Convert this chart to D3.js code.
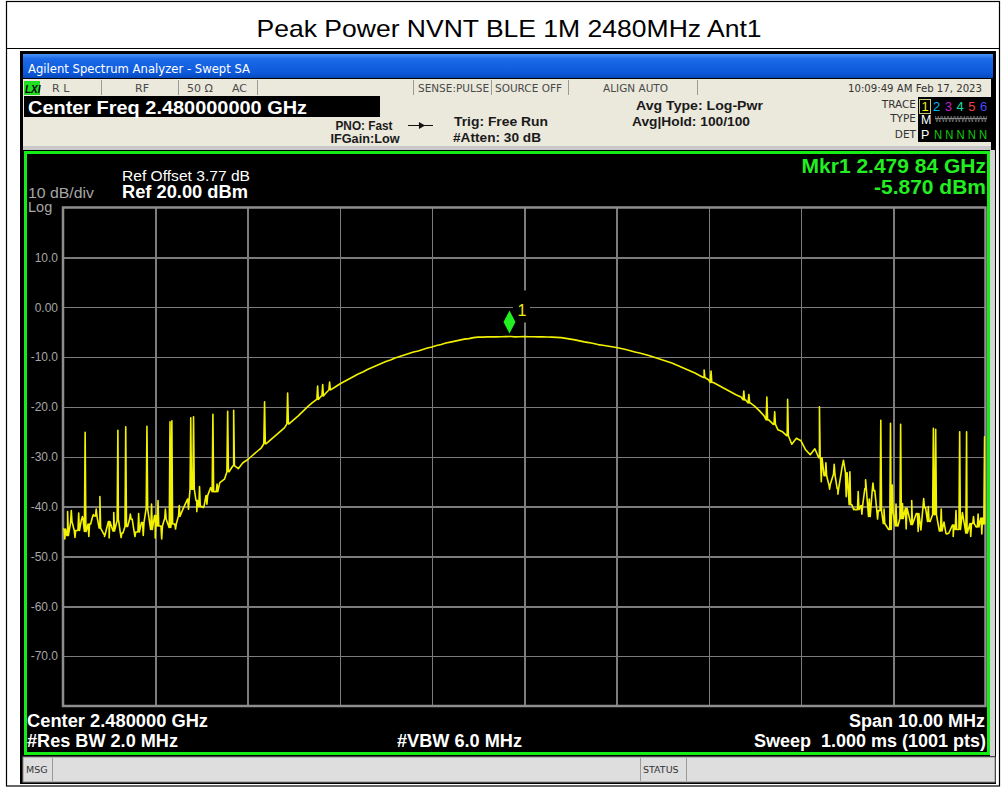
<!DOCTYPE html>
<html lang="en">
<head>
    <meta charset="utf-8">
    <title>Peak Power NVNT BLE 1M 2480MHz Ant1</title>
    <script src="https://d3js.org/d3.v7.min.js"></script>
    <style type="text/css">
        body {
            margin: 0;
            background: #fff;
            font-family: 'Liberation Sans', Arial, sans-serif;
        }
        svg { display: block; }
        .grid line { stroke: #7c7c7c; stroke-width: 1.5; shape-rendering: crispEdges; }
        .grid path { display: none; }
        .ylabels path, .ylabels line { display: none; }
        .ylabels text { fill: #a6a6a6; font-size: 12px; font-family: 'Liberation Sans', Arial, sans-serif; }
        .bar-txt { fill: #4a4a4a; font-size: 11px; font-family: 'DejaVu Sans', Tahoma, sans-serif; }
        .info { fill: #1a1a1a; font-weight: bold; font-family: 'Liberation Sans', Arial, sans-serif; }
        .scr { fill: #fff; font-weight: bold; font-size: 18px; }
        .mkr { fill: #22ee22; font-weight: bold; font-size: 21px; }
        .trace { fill: none; stroke: #f2f200; stroke-width: 1.6; stroke-linejoin: round; }
    </style>
</head>
<body>
<svg></svg>
<script>
    // Sweep settings
    var startMHz = 2475, stopMHz = 2485, stepMHz = 0.05;
    var refLevel = 20, dbPerDiv = 10;

    // Trace levels in dBm, one every 0.05 MHz
    var traceLevels = [
        -44.5, -45.8, -43.2, -44.8, -42.6, -45.0, -43.5, -41.9, -44.3, -45.5,
        -43.0, -44.9, -42.8, -45.3, -44.0, -42.5, -45.1, -43.2, -40.5, -44.6,
        -41.8, -43.9, -42.5, -44.2, -43.5, -42.0, -40.5, -38.5, -36.5, -38.8,
        -40.0, -37.8, -36.2, -37.0, -35.2, -34.5, -33.0, -31.8, -32.4, -31.2,
        -30.6, -29.8, -29.0, -28.2, -27.4, -26.6, -25.8, -25.0, -24.2, -23.4,
        -22.6, -21.8, -20.9, -20.0, -19.2, -18.5, -17.8, -17.2, -16.6, -16.0,
        -15.4, -14.9, -14.4, -13.9, -13.4, -13.0, -12.5, -12.1, -11.7, -11.3,
        -10.9, -10.6, -10.2, -9.9, -9.6, -9.3, -9.0, -8.8, -8.5, -8.2,
        -8.0, -7.7, -7.5, -7.2, -7.0, -6.8, -6.6, -6.4, -6.3, -6.1,
        -6.0, -6.0, -5.95, -5.92, -5.95, -5.93, -5.9, -5.87, -5.95, -5.92,
        -5.9, -5.92, -5.93, -5.95, -5.95, -5.97, -6.0, -6.05, -6.1, -6.25,
        -6.4, -6.55, -6.75, -6.95, -7.1, -7.3, -7.5, -7.65, -7.8, -7.95,
        -8.1, -8.3, -8.5, -8.75, -9.0, -9.2, -9.45, -9.7, -10.0, -10.3,
        -10.6, -10.9, -11.2, -11.6, -12.0, -12.4, -12.8, -13.2, -13.7, -14.1,
        -14.6, -15.1, -15.6, -16.1, -16.6, -17.1, -17.6, -18.0, -18.6, -19.2,
        -19.9, -20.8, -21.8, -22.6, -23.5, -24.6, -25.0, -25.8, -27.5, -26.3,
        -26.8, -28.6, -29.6, -28.4, -30.2, -33.8, -35.5, -33.6, -36.4, -31.6,
        -33.2, -39.6, -40.6, -39.8, -36.4, -42.0, -36.8, -40.8, -43.4, -44.6,
        -41.2, -43.9, -42.4, -40.3, -43.6, -41.4, -44.7, -40.2, -43.0, -41.6,
        -44.9, -43.1, -45.4, -43.7, -44.6, -41.2, -45.3, -43.4, -44.1, -42.3,
        -43.5
    ];

    // Narrow spurs sticking out of the trace
    var spikeMHz = [2475.24, 2475.40, 2475.595, 2475.68, 2475.91, 2476.16, 2476.18, 2476.385,
        2476.415, 2476.625, 2476.785, 2476.85, 2477.185, 2477.435, 2477.76, 2477.815, 2477.89,
        2481.95, 2482.025, 2482.38, 2482.435, 2482.63, 2482.715, 2482.855, 2483.20, 2483.865,
        2483.97, 2484.08, 2484.435, 2484.46, 2484.72, 2484.795, 2484.99];
    var spikeDbm = [-25.1, -38.0, -24.7, -24.0, -23.9, -23.0, -22.8, -22.2,
        -22.0, -21.5, -20.9, -20.7, -19.0, -17.2, -15.8, -15.5, -15.0,
        -12.6, -12.8, -16.8, -17.5, -18.0, -21.0, -18.5, -20.0, -22.7,
        -23.3, -23.5, -24.3, -24.5, -25.0, -25.0, -26.0];

    // Smaller noise excursions
    var glitchMHz = [2475.02, 2475.05, 2475.09, 2475.13, 2475.17, 2475.21, 2475.28, 2475.33, 2475.36, 2475.45,
        2475.50, 2475.55, 2475.63, 2475.73, 2475.78, 2475.82, 2475.87, 2475.96, 2476.00, 2476.03,
        2476.07, 2476.11, 2476.22, 2476.26, 2476.36, 2476.45, 2476.48, 2476.52, 2476.56, 2476.67,
        2483.22, 2483.27, 2483.31, 2483.36, 2483.40, 2483.46, 2483.49, 2483.53, 2483.58, 2483.62,
        2483.66, 2483.70, 2483.74, 2483.78, 2483.83, 2483.90, 2483.99, 2484.03, 2484.10, 2484.14,
        2484.20, 2484.27, 2484.33, 2484.38, 2484.52, 2484.58, 2484.65, 2484.68, 2484.84, 2484.87,
        2484.92, 2484.96];
    var glitchDbm = [-46.5, -41.0, -40.8, -46.2, -41.3, -42.0, -46.0, -41.6, -40.5, -46.0,
        -46.3, -41.2, -46.2, -41.5, -46.0, -41.4, -45.8, -39.5, -46.3, -38.8,
        -46.5, -40.5, -44.5, -39.8, -40.5, -41.0, -36.0, -40.2, -39.5, -35.5,
        -35.0, -31.2, -36.5, -31.5, -37.5, -30.7, -38.0, -33.0, -40.5, -37.0,
        -41.5, -34.6, -38.5, -35.3, -42.5, -40.5, -35.7, -39.5, -39.4, -44.5,
        -38.8, -45.0, -38.4, -40.0, -40.5, -45.5, -46.0, -40.8, -46.0, -42.0,
        -41.5, -45.5];

    var yTickValues = [10, 0, -10, -20, -30, -40, -50, -60, -70];
    var yTickLabels = ["10.0", "0.00", "-10.0", "-20.0", "-30.0", "-40.0", "-50.0", "-60.0", "-70.0"];

    var markerMHz = 2479.84, markerDbm = -5.87;

    var traceNumbers = ["1", "2", "3", "4", "5", "6"];
    var traceColors = ["#f0f000", "#00b8f0", "#c020c8", "#10e0a0", "#f04040", "#4848ff"];

    var svg = d3.select("svg")
        .attr("width", 1004)
        .attr("height", 787);

    function txt(g, xPos, yPos, str, cls, size, anchor, fill) {
        var t = g.append("text")
            .attr("x", xPos).attr("y", yPos)
            .text(str);
        if (cls) t.attr("class", cls);
        if (size) t.style("font-size", size + "px");
        if (anchor) t.attr("text-anchor", anchor);
        if (fill) t.style("fill", fill);
        return t;
    }

    // Table frame round the picture
    svg.append("rect").attr("x", 6.5).attr("y", 1.5).attr("width", 993).attr("height", 784.5)
        .attr("fill", "#fff").attr("stroke", "#000").attr("stroke-width", 1.2);
    svg.append("line").attr("x1", 6).attr("x2", 1000).attr("y1", 48.5).attr("y2", 48.5)
        .attr("stroke", "#000").attr("stroke-width", 1.2);
    txt(svg, 509, 37, "Peak Power NVNT BLE 1M 2480MHz Ant1", null, 24, "middle", "#000")
        .attr("textLength", 505).attr("lengthAdjust", "spacingAndGlyphs");

    // Analyzer screen
    var scr = svg.append("g");
    scr.append("rect").attr("x", 20).attr("y", 51).attr("width", 976).attr("height", 733).attr("fill", "#000");

    var grad = svg.append("defs").append("linearGradient").attr("id", "bluebar")
        .attr("x1", 0).attr("y1", 0).attr("x2", 0).attr("y2", 1);
    grad.append("stop").attr("offset", "0%").attr("stop-color", "#4a95f8");
    grad.append("stop").attr("offset", "20%").attr("stop-color", "#1d6ae8");
    grad.append("stop").attr("offset", "80%").attr("stop-color", "#0b58da");
    grad.append("stop").attr("offset", "100%").attr("stop-color", "#0747bb");
    scr.append("rect").attr("x", 23).attr("y", 54).attr("width", 970).attr("height", 24).attr("fill", "url(#bluebar)");
    txt(scr, 28, 73, "Agilent Spectrum Analyzer - Swept SA", null, 12.5, null, "#fff")
        .style("font-family", "'DejaVu Sans', Tahoma, sans-serif")
        .attr("textLength", 222).attr("lengthAdjust", "spacingAndGlyphs");

    // Status row
    scr.append("rect").attr("x", 23).attr("y", 79).attr("width", 968).attr("height", 17).attr("fill", "#ebe8dc");
    [101, 178, 257, 413, 491, 568, 697].forEach(function (sx) {
        scr.append("line").attr("x1", sx + 0.5).attr("x2", sx + 0.5).attr("y1", 80).attr("y2", 95)
            .attr("stroke", "#9a9a9a");
    });
    scr.append("rect").attr("x", 24).attr("y", 81).attr("width", 16).attr("height", 14).attr("fill", "#22dd22");
    txt(scr, 25, 93, "LXI", null, 10, null, "#000").style("font-weight", "bold").style("font-style", "italic");
    txt(scr, 52, 92, "R L", "bar-txt");
    txt(scr, 135, 92, "RF", "bar-txt");
    txt(scr, 187, 92, "50 \u03a9", "bar-txt");
    txt(scr, 232, 92, "AC", "bar-txt");
    txt(scr, 418, 92, "SENSE:PULSE", "bar-txt").attr("textLength", 71).attr("lengthAdjust", "spacingAndGlyphs");
    txt(scr, 495, 92, "SOURCE OFF", "bar-txt").attr("textLength", 67).attr("lengthAdjust", "spacingAndGlyphs");
    txt(scr, 603, 92, "ALIGN AUTO", "bar-txt").attr("textLength", 65).attr("lengthAdjust", "spacingAndGlyphs");
    txt(scr, 982, 92, "10:09:49 AM Feb 17, 2023", "bar-txt", 11, "end").style("fill", "#333")
        .attr("textLength", 134).attr("lengthAdjust", "spacingAndGlyphs");

    // Settings panel
    scr.append("rect").attr("x", 23).attr("y", 96).attr("width", 968).attr("height", 51).attr("fill", "#ebe8dc");
    scr.append("rect").attr("x", 23).attr("y", 146).attr("width", 968).attr("height", 4).attr("fill", "#c9c9c9");
    scr.append("rect").attr("x", 24).attr("y", 96).attr("width", 356).attr("height", 21).attr("fill", "#000");
    txt(scr, 28, 114, "Center Freq 2.480000000 GHz", null, 18, null, "#fff").style("font-weight", "bold")
        .attr("textLength", 279).attr("lengthAdjust", "spacingAndGlyphs");

    txt(scr, 364, 130, "PNO: Fast", "info", 12, "middle").attr("textLength", 57).attr("lengthAdjust", "spacingAndGlyphs");
    txt(scr, 365, 143, "IFGain:Low", "info", 12, "middle").attr("textLength", 69).attr("lengthAdjust", "spacingAndGlyphs");
    scr.append("line").attr("x1", 408).attr("x2", 433).attr("y1", 125.5).attr("y2", 125.5).attr("stroke", "#111");
    scr.append("path").attr("d", d3.symbol().type(d3.symbolTriangle).size(22))
        .attr("transform", "translate(421,125.5) rotate(90)").attr("fill", "#111");
    txt(scr, 454, 126, "Trig: Free Run", "info", 13.5).attr("textLength", 94).attr("lengthAdjust", "spacingAndGlyphs");
    txt(scr, 453, 142, "#Atten: 30 dB", "info", 13).attr("textLength", 88).attr("lengthAdjust", "spacingAndGlyphs");
    txt(scr, 636, 110, "Avg Type: Log-Pwr", "info", 13.5).attr("textLength", 127).attr("lengthAdjust", "spacingAndGlyphs");
    txt(scr, 632, 126, "Avg|Hold: 100/100", "info", 13.5).attr("textLength", 118).attr("lengthAdjust", "spacingAndGlyphs");

    // Trace table top right
    txt(scr, 916, 108, "TRACE", "bar-txt", 10.5, "end").style("fill", "#333");
    txt(scr, 916, 122, "TYPE", "bar-txt", 10.5, "end").style("fill", "#333");
    txt(scr, 916, 138, "DET", "bar-txt", 10.5, "end").style("fill", "#333");
    scr.append("rect").attr("x", 918).attr("y", 97).attr("width", 73).attr("height", 45).attr("fill", "#000");
    scr.append("rect").attr("x", 919.5).attr("y", 99.5).attr("width", 11).attr("height", 14)
        .attr("fill", "none").attr("stroke", "#c8c870");
    traceNumbers.forEach(function (n, i) {
        txt(scr, 925 + i * 11.7, 111, n, null, 13, "middle", traceColors[i]);
    });
    txt(scr, 921, 124, "M", null, 12.5, null, "#fff");
    txt(scr, 935, 122, "WWWWWWWW", null, 9, null, "#8a8a8a").attr("textLength", 52).attr("lengthAdjust", "spacingAndGlyphs");
    scr.append("line").attr("x1", 935).attr("x2", 987).attr("y1", 118.5).attr("y2", 118.5).attr("stroke", "#8a8a8a");
    txt(scr, 921, 139, "P", null, 12.5, null, "#fff");
    txt(scr, 934, 139, "N N N N N", null, 12.5, null, "#11cc11").attr("textLength", 53).attr("lengthAdjust", "spacingAndGlyphs");

    // Graph area with green active frame
    scr.append("rect").attr("x", 990).attr("y", 150).attr("width", 5).attr("height", 606).attr("fill", "#d4d4d4");
    scr.append("rect").attr("x", 25.5).attr("y", 152.5).attr("width", 963).attr("height", 601)
        .attr("fill", "#000").attr("stroke", "#14ee14").attr("stroke-width", 3);

    var grat = {left: 63, right: 985.5, top: 207.5, bottom: 706};

    var x = d3.scaleLinear().domain([startMHz, stopMHz]).range([grat.left, grat.right]);
    var y = d3.scaleLinear().domain([refLevel - 10 * dbPerDiv, refLevel]).range([grat.bottom, grat.top]);

    // Vertical grid
    svg.append("g")
        .attr("class", "grid")
        .attr("transform", "translate(0," + grat.bottom + ")")
        .call(d3.axisBottom(x).tickValues(d3.range(startMHz + 1, stopMHz, 1))
            .tickSize(-(grat.bottom - grat.top)).tickFormat(""));

    // Horizontal grid
    svg.append("g")
        .attr("class", "grid")
        .attr("transform", "translate(" + grat.left + ",0)")
        .call(d3.axisLeft(y).tickValues(yTickValues)
            .tickSize(-(grat.right - grat.left)).tickFormat(""));

    svg.append("rect").attr("x", grat.left).attr("y", grat.top)
        .attr("width", grat.right - grat.left).attr("height", grat.bottom - grat.top)
        .attr("fill", "none").attr("stroke", "#8e8e8e").attr("stroke-width", 2.5);

    // Amplitude labels
    svg.append("g")
        .attr("class", "ylabels")
        .attr("transform", "translate(" + grat.left + ",0)")
        .call(d3.axisLeft(y).tickValues(yTickValues).tickSize(0).tickPadding(5)
            .tickFormat(function (d, i) { return yTickLabels[i]; }));

    txt(svg, 28, 198, "10 dB/div", null, 14.5, null, "#a6a6a6").attr("textLength", 66).attr("lengthAdjust", "spacingAndGlyphs");
    txt(svg, 28, 212, "Log", null, 14.5, null, "#a6a6a6");
    txt(svg, 122, 181, "Ref Offset 3.77 dB", null, 14.5, null, "#fff").attr("textLength", 128).attr("lengthAdjust", "spacingAndGlyphs");
    txt(svg, 122, 198, "Ref 20.00 dBm", null, 17.5, null, "#fff").style("font-weight", "bold")
        .attr("textLength", 126).attr("lengthAdjust", "spacingAndGlyphs");
    txt(svg, 986, 173, "Mkr1 2.479 84 GHz", "mkr", null, "end");
    txt(svg, 986, 194, "-5.870 dBm", "mkr", null, "end");

    // Trace points, spurs merged in
    var points = traceLevels.map(function (v, i) {
        return {f: startMHz + i * stepMHz, v: v};
    });
    function addSpur(f, top) {
        var base = traceLevels[Math.round((f - startMHz) / stepMHz)];
        points.push({f: f - 0.008, v: base}, {f: f, v: top}, {f: f + 0.008, v: base});
    }
    spikeMHz.forEach(function (f, i) { addSpur(f, spikeDbm[i]); });
    glitchMHz.forEach(function (f, i) { addSpur(f, glitchDbm[i]); });
    points.sort(function (a, b) { return a.f - b.f; });

    svg.append("clipPath").attr("id", "gclip").append("rect")
        .attr("x", grat.left).attr("y", grat.top)
        .attr("width", grat.right - grat.left).attr("height", grat.bottom - grat.top);

    var line = d3.line()
        .x(function (d) { return x(d.f); })
        .y(function (d) { return y(d.v); });

    svg.append("path")
        .datum(points)
        .attr("class", "trace")
        .attr("clip-path", "url(#gclip)")
        .attr("d", line);

    // Marker 1
    var mx = x(markerMHz), my = y(markerDbm);
    svg.append("rect").attr("x", mx + 3.5).attr("y", my - 46).attr("width", 17).attr("height", 32).attr("fill", "#000");
    svg.append("path")
        .attr("d", "M0,-11.5L6,0L0,11.5L-6,0Z")
        .attr("transform", "translate(" + mx + "," + (my - 14.5) + ")")
        .attr("fill", "#22ee22");
    txt(svg, mx + 8, my - 20, "1", null, 16, null, "#f0f000");

    // Bottom annotations
    txt(svg, 27, 727, "Center 2.480000 GHz", "scr").attr("textLength", 181).attr("lengthAdjust", "spacingAndGlyphs");
    txt(svg, 27, 747, "#Res BW 2.0 MHz", "scr").attr("textLength", 151).attr("lengthAdjust", "spacingAndGlyphs");
    txt(svg, 397, 747, "#VBW 6.0 MHz", "scr").attr("textLength", 125).attr("lengthAdjust", "spacingAndGlyphs");
    txt(svg, 985, 727, "Span 10.00 MHz", "scr", null, "end");
    txt(svg, 986, 747, "Sweep  1.000 ms (1001 pts)", "scr", null, "end").style("white-space", "pre");

    // Message bar
    scr.append("rect").attr("x", 23).attr("y", 757).attr("width", 972).attr("height", 25)
        .attr("fill", "#dedede").attr("stroke", "#8a8a8a");
    [52.5, 640.5, 686.5].forEach(function (sx) {
        scr.append("line").attr("x1", sx).attr("x2", sx).attr("y1", 758).attr("y2", 781).attr("stroke", "#9a9a9a");
    });
    txt(scr, 26, 773, "MSG", "bar-txt", 9.5).style("fill", "#333");
    txt(scr, 643, 773, "STATUS", "bar-txt", 9.5).style("fill", "#333");
</script>
</body>
</html>
